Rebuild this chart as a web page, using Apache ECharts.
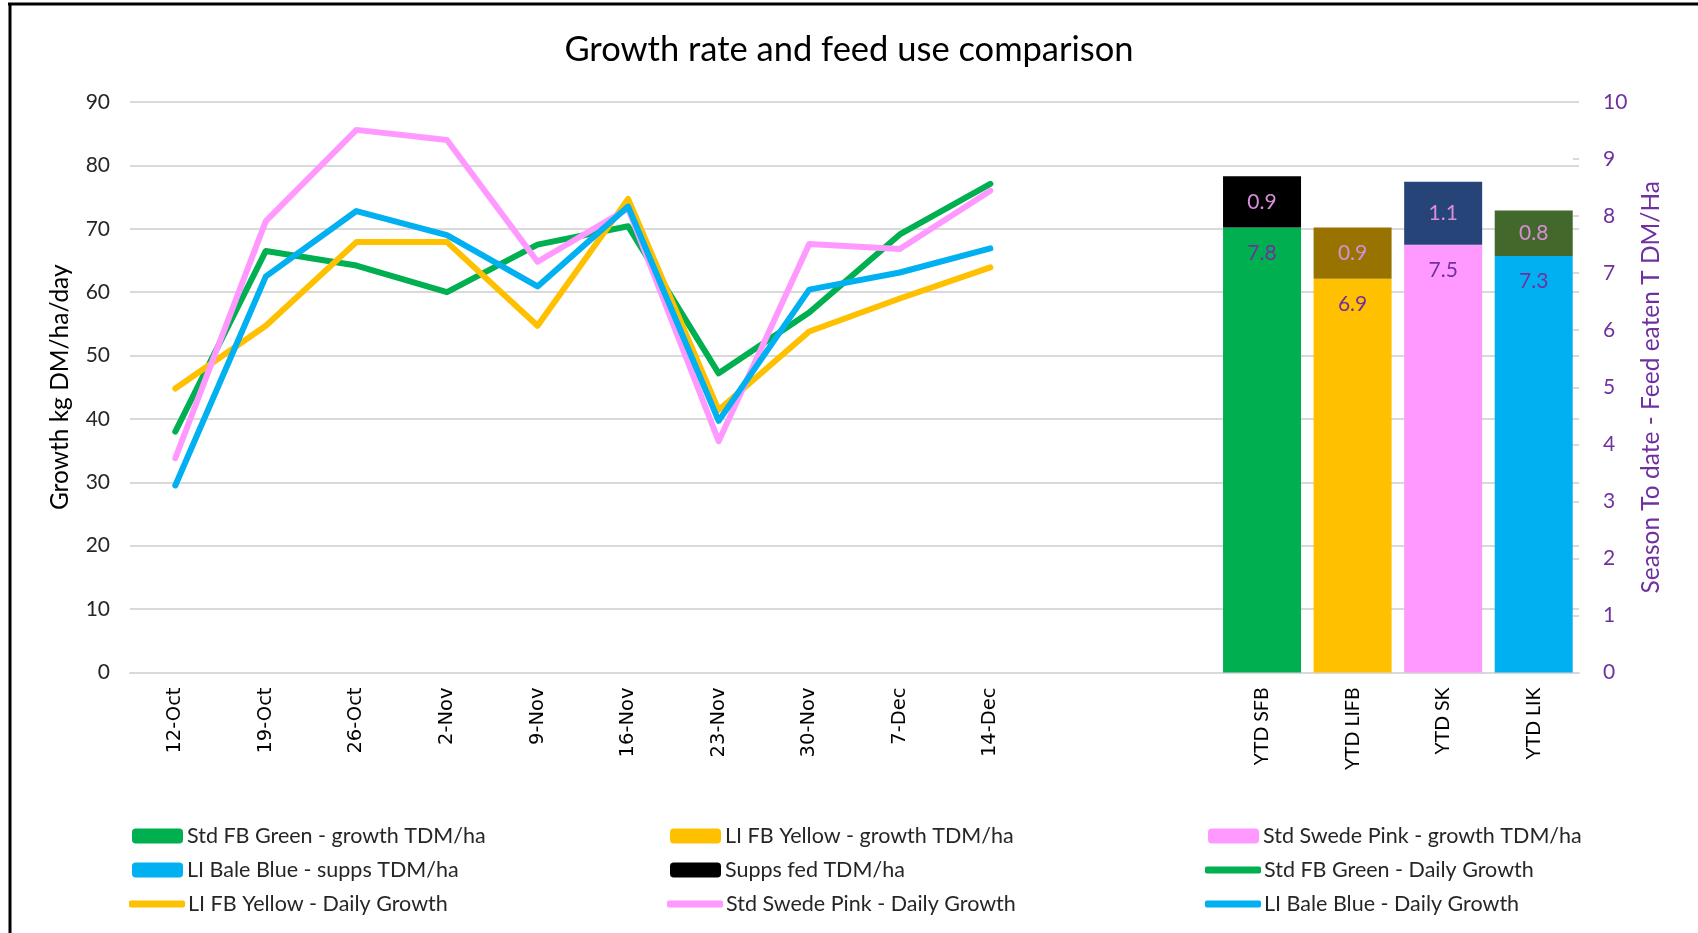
<!DOCTYPE html>
<html>
<head>
<meta charset="utf-8">
<title>Growth rate and feed use comparison</title>
<script src="https://cdn.jsdelivr.net/npm/echarts@6/dist/echarts.min.js"></script>
<style>
  html, body { margin: 0; padding: 0; background: #ffffff; }
  #chart { width: 1698px; height: 933px; }
</style>
</head>
<body>
<div id="chart"></div>
<script>
// Weekly dates for the daily growth lines
const weekLabels = ['12-Oct', '19-Oct', '26-Oct', '2-Nov', '9-Nov', '16-Nov', '23-Nov', '30-Nov', '7-Dec', '14-Dec'];
// Two blank slots separate the weekly lines from the season-to-date bars
const gapLabels = [' ', '  '];
const ytdLabels = ['YTD SFB', 'YTD LIFB', 'YTD SK', 'YTD LIK'];

// Daily growth, kg DM/ha/day
const stdFbGreenDaily   = [38.0, 66.5, 64.2, 60.0, 67.5, 70.4, 47.2, 56.8, 69.1, 77.1];
const liFbYellowDaily   = [44.8, 54.7, 67.9, 67.9, 54.7, 74.7, 41.4, 53.8, 59.0, 63.9];
const stdSwedePinkDaily = [33.8, 71.2, 85.6, 84.0, 64.8, 73.2, 36.5, 67.6, 66.8, 76.0];
const liBaleBlueDaily   = [29.5, 62.5, 72.8, 69.0, 60.9, 73.5, 39.7, 60.4, 63.1, 66.9];

// Season to date feed eaten, T DM/ha
const ytdGrowth = [7.8, 6.9, 7.5, 7.3];
const suppsFed  = [0.9, 0.9, 1.1, 0.8];

// Axis ticks
const leftTicks  = { min: 0, max: 90, interval: 10 };
const rightTicks = { min: 0, max: 10, interval: 1 };

const categories = weekLabels.concat(gapLabels, ytdLabels);
const ytdStart = weekLabels.length + gapLabels.length;

const C = {
  green: '#00B050', yellow: '#FFC000', pink: '#FF99FF', blue: '#00B0F0',
  black: '#000000', brown: '#997300', navy: '#264478', olive: '#43682B',
  purple: '#7030A0', labelPink: '#D98DDA', grid: '#D9D9D9', text: '#262626'
};
const suppColors = [C.black, C.brown, C.navy, C.olive];

// One value on its own YTD column, blanks elsewhere
function ytdColumn(idx, value) {
  const arr = categories.map(() => '-');
  arr[ytdStart + idx] = value;
  return arr;
}

const growthBarNames = [
  'Std FB Green - growth TDM/ha',
  'LI FB Yellow - growth TDM/ha',
  'Std Swede Pink - growth TDM/ha',
  'LI Bale Blue - supps TDM/ha'
];
const growthBarColors = [C.green, C.yellow, C.pink, C.blue];

const barBase = {
  type: 'bar',
  yAxisIndex: 1,
  stack: 'ytd',
  barWidth: 78,
  animation: false
};

const growthBars = growthBarNames.map((name, i) => Object.assign({}, barBase, {
  name: name,
  data: ytdColumn(i, ytdGrowth[i]),
  itemStyle: { color: growthBarColors[i] },
  label: {
    show: true, position: 'insideTop', distance: 15,
    color: C.purple, fontFamily: 'Lato', fontSize: 21,
    formatter: p => Number(p.value).toFixed(1)
  }
}));

const suppsData = categories.map(() => '-');
suppsFed.forEach((v, i) => {
  suppsData[ytdStart + i] = { value: v, itemStyle: { color: suppColors[i] } };
});

const suppsBar = Object.assign({}, barBase, {
  name: 'Supps fed TDM/ha',
  data: suppsData,
  itemStyle: { color: C.black },
  label: {
    show: true, position: 'inside',
    color: C.labelPink, fontFamily: 'Lato', fontSize: 21,
    formatter: p => Number(p.value).toFixed(1)
  }
});

function dailyLine(name, data, color) {
  return {
    type: 'line', name: name, data: data, yAxisIndex: 0,
    symbol: 'none', smooth: false, animation: false,
    lineStyle: { color: color, width: 6, join: 'round', cap: 'round' },
    itemStyle: { color: color }
  };
}

const lines = [
  dailyLine('Std FB Green - Daily Growth', stdFbGreenDaily, C.green),
  dailyLine('LI FB Yellow - Daily Growth', liFbYellowDaily, C.yellow),
  dailyLine('Std Swede Pink - Daily Growth', stdSwedePinkDaily, C.pink),
  dailyLine('LI Bale Blue - Daily Growth', liBaleBlueDaily, C.blue)
];
const lineNames = lines.map(s => s.name);

// Legend laid out as a 3 x 3 table
const legendCells = [
  ['Std FB Green - growth TDM/ha', 'LI FB Yellow - growth TDM/ha', 'Std Swede Pink - growth TDM/ha'],
  ['LI Bale Blue - supps TDM/ha', 'Supps fed TDM/ha', 'Std FB Green - Daily Growth'],
  ['LI FB Yellow - Daily Growth', 'Std Swede Pink - Daily Growth', 'LI Bale Blue - Daily Growth']
];
const legendCols = [132, 670, 1208];
const legendRows = [836, 870, 904];   // row centre lines
const legends = [];
legendCells.forEach((row, r) => row.forEach((name, c) => {
  const isLine = lineNames.indexOf(name) >= 0;
  legends.push({
    data: [isLine ? { name: name, icon: 'roundRect' } : name],
    left: isLine ? legendCols[c] - 3 : legendCols[c],
    top: legendRows[r] - 12,
    padding: 0,
    itemWidth: isLine ? 56 : 51, itemHeight: isLine ? 7 : 15, itemGap: 0,
    selectedMode: false,
    textStyle: {
      fontFamily: 'Lato', fontSize: 21.5, color: C.text, lineHeight: 24,
      padding: [0, 0, 0, isLine ? -2 : -1]
    }
  });
}));

const chart = echarts.init(document.getElementById('chart'), null, { renderer: 'canvas' });
chart.setOption({
  backgroundColor: '#ffffff',
  animation: false,
  textStyle: { fontFamily: 'Lato' },
  title: {
    text: 'Growth rate and feed use comparison',
    left: 'center', top: 27,
    textStyle: { fontFamily: 'Lato', fontSize: 34.5, fontWeight: 'normal', color: '#000000' }
  },
  legend: legends,
  grid: { left: 130, right: 119, top: 102, bottom: 260.5, containLabel: false },
  xAxis: {
    type: 'category',
    data: categories,
    boundaryGap: true,
    axisLine: { show: true, lineStyle: { color: C.grid, width: 2 } },
    axisTick: { show: false },
    axisLabel: {
      rotate: 90, margin: 15, interval: 0,
      formatter: v => {
        if (v.trim() === '') return '';
        return ytdLabels.indexOf(v) >= 0 ? '{y|' + v + '}' : '{d|' + v + '}';
      },
      rich: {
        d: { fontFamily: 'DejaVu Sans', fontSize: 19.5, color: '#000000' },
        y: { fontFamily: 'Lato', fontSize: 19.5, color: '#000000' }
      }
    },
    splitLine: { show: false }
  },
  yAxis: [
    {
      type: 'value', position: 'left',
      min: leftTicks.min, max: leftTicks.max, interval: leftTicks.interval,
      name: 'Growth kg DM/ha/day', nameLocation: 'middle', nameRotate: 90, nameGap: 57,
      nameTextStyle: { fontFamily: 'Lato', fontSize: 24.5, color: '#000000' },
      axisLine: { show: false }, axisTick: { show: false },
      axisLabel: { margin: 20, fontFamily: 'Lato', fontSize: 21, color: '#262626' },
      splitLine: { show: true, lineStyle: { color: C.grid, width: 2 } }
    },
    {
      type: 'value', position: 'right',
      min: rightTicks.min, max: rightTicks.max, interval: rightTicks.interval,
      name: 'Season To date - Feed eaten T DM/Ha', nameLocation: 'middle', nameRotate: 90, nameGap: 60,
      nameTextStyle: { fontFamily: 'Lato', fontSize: 24.5, color: C.purple },
      axisLine: { show: false },
      axisTick: { show: true, inside: true, length: 6, lineStyle: { color: C.grid, width: 2 } },
      axisLabel: { margin: 24, fontFamily: 'Lato', fontSize: 21, color: C.purple },
      splitLine: { show: false }
    }
  ],
  graphic: [
    { type: 'line', shape: { x1: 8, y1: 4, x2: 1698, y2: 4 }, style: { stroke: '#000000', lineWidth: 3 }, silent: true },
    { type: 'line', shape: { x1: 10, y1: 3, x2: 10, y2: 933 }, style: { stroke: '#000000', lineWidth: 3 }, silent: true }
  ],
  series: growthBars.concat([suppsBar], lines)
});
</script>
</body>
</html>
